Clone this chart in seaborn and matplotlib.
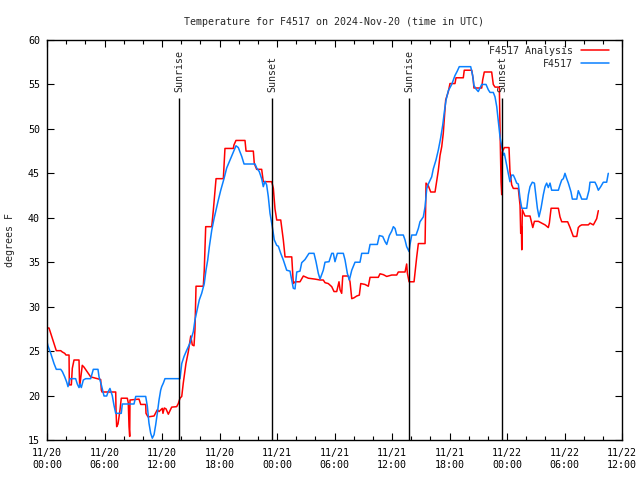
import matplotlib
matplotlib.use("Agg")
import matplotlib.pyplot as plt
import matplotlib.dates as mdates
import pandas as pd
import seaborn as sns

START = pd.Timestamp("2024-11-20 00:00")
END = pd.Timestamp("2024-11-22 12:00")

# F4517 Analysis (hours after 11/20 00:00 UTC, deg F)
analysis_hours = [
    0.0, 0.21, 0.39, 0.73, 0.97, 1.43, 1.6, 1.85, 1.98, 2.3, 2.33, 2.54, 2.64, 2.82,
    3.34, 3.41, 3.68, 3.86, 4.56, 5.6, 5.67, 5.74, 7.17, 7.2, 7.27, 7.41, 7.62, 7.75,
    8.38, 8.48, 8.56, 8.63, 8.66, 9.6, 9.78, 10.3, 10.33, 10.54, 11.17, 11.51, 11.69,
    12.03, 12.1, 12.24, 12.42, 12.66, 13.01, 13.53, 13.7, 13.88, 14.06, 14.22, 14.5,
    14.74, 15.0, 15.16, 15.34, 15.44, 15.55, 16.31, 16.41, 16.56, 17.19, 17.36, 17.53,
    17.64, 18.4, 18.57, 19.44, 19.51, 19.72, 20.66, 20.77, 21.53, 21.63, 21.88, 22.4,
    22.57, 23.45, 23.62, 23.79, 23.97, 24.39, 24.66, 24.84, 25.54, 25.7, 25.88, 26.4,
    26.75, 27.27, 27.97, 28.49, 28.83, 29.01, 29.35, 29.71, 29.95, 30.23, 30.47, 30.58,
    30.75, 30.86, 31.44, 31.62, 31.8, 32.04, 32.32, 32.59, 32.74, 33.18, 33.53, 33.71,
    34.57, 34.75, 35.1, 35.45, 35.97, 36.49, 36.66, 37.36, 37.53, 37.6, 37.78, 38.3,
    38.4, 38.58, 38.75, 39.45, 39.55, 39.79, 40.04, 40.49, 40.59, 40.83, 41.01, 41.19,
    41.35, 41.46, 41.6, 41.88, 42.05, 42.57, 42.68, 43.44, 43.54, 44.32, 44.48, 44.55,
    45.36, 45.46, 45.63, 46.4, 46.57, 46.75, 47.2, 47.27, 47.38, 47.45, 47.51, 47.72,
    48.21, 48.31, 48.49, 48.66, 49.18, 49.36, 49.43, 49.5, 49.54, 49.6, 49.88, 50.4,
    50.58, 50.69, 50.86, 51.27, 51.62, 51.97, 52.31, 52.42, 52.6, 53.36, 53.53, 53.71,
    54.33, 54.58, 54.75, 54.92, 55.28, 55.44, 55.62, 55.8, 56.49, 56.66, 57.01, 57.18,
    57.36, 57.53,
]
analysis_temps = [
    27.6, 27.6, 27.0, 25.9, 25.05, 25.05, 24.9, 24.75, 24.56, 24.56, 21.2, 21.2, 23.06, 24.0,
    24.0, 21.0, 23.4, 23.2, 22.1, 21.8, 20.6, 20.4, 20.4, 18.4, 16.5, 16.8, 18.4, 19.7,
    19.7, 19.2, 16.5, 15.4, 19.5, 19.6, 19.0, 19.0, 18.0, 17.6, 17.7, 18.4, 18.2,
    18.56, 18.0, 18.6, 18.5, 17.9, 18.7, 18.75, 19.1, 19.7, 19.9, 21.4, 23.6,
    24.9, 26.7, 25.7, 25.6, 27.4, 32.3, 32.3, 34.1, 39.0, 39.0, 40.9, 43.1,
    44.4, 44.4, 47.8, 47.8, 48.2, 48.7, 48.7, 47.5, 47.5, 46.1, 45.45, 45.45,
    44.06, 44.06, 43.3, 41.0, 39.75, 39.75, 37.5, 35.6, 35.6, 32.6, 32.8, 32.8,
    33.45, 33.2, 33.1, 33.0, 33.0, 32.7, 32.6, 32.25, 31.7, 31.7, 32.8, 31.9,
    31.5, 33.45, 33.45, 32.8, 30.9, 31.0, 31.2, 31.3, 32.6, 32.5, 32.3, 33.3,
    33.3, 33.7, 33.6, 33.4, 33.56, 33.56, 33.9, 33.9, 34.8, 33.8, 32.8, 32.8,
    33.8, 35.6, 37.1, 37.1, 43.9, 43.6, 42.9, 42.9, 43.6, 45.3, 47.0, 48.0,
    49.5, 51.2, 53.25, 54.2, 55.1, 55.1, 55.75, 55.75, 56.6, 56.6, 55.5, 54.6,
    54.6, 55.5, 56.4, 56.4, 55.0, 54.7, 54.7, 50.1, 44.0, 42.6, 47.4, 47.9,
    47.9, 45.2, 43.7, 43.3, 43.3, 41.4, 38.25, 39.0, 36.4, 40.9, 40.2, 40.2,
    39.4, 38.9, 39.6, 39.6, 39.4, 39.2, 38.9, 39.4, 41.07, 41.07, 40.1, 39.55,
    39.55, 38.9, 38.4, 37.9, 37.9, 38.9, 39.1, 39.2, 39.2, 39.4, 39.2, 39.55,
    39.9, 40.8,
]

# F4517 observations
obs_hours = [
    0.0, 0.1, 0.39, 0.55, 0.73, 0.97, 1.43, 1.6, 1.85, 2.06, 2.19, 2.4, 2.99, 3.16,
    3.34, 3.44, 3.58, 3.79, 4.04, 4.56, 4.83, 5.32, 5.43, 5.67, 5.95, 6.23, 6.37,
    6.57, 6.81, 6.99, 7.17, 7.75, 7.86, 9.08, 9.26, 10.3, 10.47, 10.64, 10.82, 10.99,
    11.17, 11.34, 11.51, 11.69, 11.86, 11.97, 12.14, 12.31, 13.88, 14.06, 14.3, 14.58,
    14.92, 15.27, 15.44, 15.62, 15.89, 16.14, 16.41, 16.59, 16.77, 16.94, 17.19, 17.43,
    17.64, 17.88, 18.13, 18.47, 18.75, 19.1, 19.44, 19.72, 19.96, 20.32, 20.56, 21.71,
    21.88, 22.15, 22.4, 22.57, 22.75, 22.92, 23.09, 23.27, 23.51, 23.72, 23.97, 24.14,
    24.39, 24.66, 25.01, 25.36, 25.54, 25.7, 25.88, 26.06, 26.4, 26.58, 26.92, 27.34,
    27.86, 28.07, 28.31, 28.49, 28.83, 29.01, 29.43, 29.71, 29.88, 30.05, 30.3, 30.92,
    31.1, 31.34, 31.55, 31.8, 32.14, 32.66, 32.84, 33.53, 33.71, 34.47, 34.68, 35.03,
    35.28, 35.45, 35.72, 35.97, 36.14, 36.32, 36.49, 37.18, 37.36, 37.53, 37.78, 37.88,
    38.06, 38.51, 38.75, 38.92, 39.27, 39.45, 39.63, 39.79, 40.14, 40.31, 40.59, 40.83,
    41.08, 41.29, 41.46, 41.64, 41.88, 42.23, 42.57, 42.81, 43.02, 44.21, 44.42, 44.55,
    44.76, 45.0, 45.18, 45.36, 45.81, 46.05, 46.23, 46.57, 46.75, 46.93, 47.1, 47.27,
    47.45, 47.62, 47.72, 47.9, 47.97, 48.13, 48.31, 48.49, 48.66, 48.83, 49.01, 49.18,
    49.36, 49.54, 50.06, 50.23, 50.4, 50.64, 50.86, 51.0, 51.17, 51.34, 51.55, 51.79,
    51.97, 52.14, 52.31, 52.49, 52.66, 53.36, 53.53, 53.71, 53.88, 54.05, 54.23, 54.4,
    54.68, 54.82, 55.28, 55.44, 55.62, 55.8, 56.32, 56.56, 56.66, 57.18, 57.36, 57.53,
    57.78, 58.05, 58.4, 58.57,
]
obs_temps = [
    26.06, 25.6, 24.75, 24.2, 23.6, 22.95, 22.95, 22.7, 22.1, 21.5, 21.0, 21.9, 21.9, 21.3,
    20.9, 21.3, 20.9, 21.75, 21.9, 21.9, 22.95, 22.95, 22.1, 21.2, 19.95, 19.95, 20.4,
    20.8, 20.0, 18.9, 18.0, 18.0, 19.05, 19.05, 19.9, 19.9, 18.8, 16.9, 15.75, 15.2,
    15.6, 16.7, 18.0, 19.5, 20.6, 21.0, 21.4, 21.9, 21.9, 23.6, 24.4, 25.1,
    25.9, 27.2, 28.5, 29.4, 30.75, 31.5, 32.6, 34.1, 35.25, 36.75, 38.6, 39.9,
    40.9, 42.0, 43.1, 44.4, 45.6, 46.5, 47.4, 48.1, 47.9, 46.9, 46.05, 46.05,
    45.6, 45.2, 44.4, 43.5, 44.1, 43.7, 42.4, 40.5, 39.0, 37.5, 36.9, 36.8,
    36.0, 35.25, 34.1, 34.0, 33.0, 32.07, 32.0, 33.9, 34.0, 34.95, 35.3, 36.0,
    36.0, 35.06, 33.75, 33.1, 34.1, 35.0, 35.06, 36.0, 36.0, 35.06, 36.0, 36.0,
    35.25, 33.75, 33.0, 34.1, 35.0, 35.0, 36.0, 36.0, 37.0, 37.0, 38.0, 37.9,
    37.3, 37.0, 38.0, 38.5, 39.0, 38.8, 38.06, 38.06, 37.5, 36.75, 36.2, 37.0,
    38.06, 38.06, 38.8, 39.55, 40.1, 41.25, 43.3, 43.8, 44.6, 45.5, 46.5, 47.6,
    49.0, 50.4, 51.9, 53.25, 54.3, 55.0, 56.0, 56.5, 57.0, 57.0, 56.0, 54.9,
    54.5, 54.2, 54.6, 55.0, 55.0, 54.4, 54.1, 54.1, 53.6, 52.5, 50.8, 49.1,
    48.0, 47.06, 47.25, 46.3, 45.9, 45.0, 44.06, 44.8, 44.8, 44.4, 43.9, 43.8,
    42.2, 41.07, 41.07, 42.6, 43.5, 44.0, 43.9, 42.6, 41.07, 40.1, 41.07, 42.6,
    43.5, 43.9, 43.4, 43.9, 43.1, 43.1, 43.7, 44.25, 44.4, 45.0, 44.4, 43.9,
    42.9, 42.1, 42.1, 43.05, 42.6, 42.1, 42.1, 43.1, 44.0, 44.0, 43.6, 43.1,
    43.5, 44.0, 44.0, 45.0,
]

sunrise_times = ["2024-11-20 13:48", "2024-11-21 13:47"]
sunset_times = ["2024-11-20 23:30", "2024-11-21 23:29"]

series_names = ["F4517 Analysis", "F4517"]
series_colors = ["#ff0000", "#0a80ff"]

FS = 7.2

# --------------------------------------------------
# Build long-form table
# --------------------------------------------------
frames = []
for name, hours, temps in [
    (series_names[0], analysis_hours, analysis_temps),
    (series_names[1], obs_hours, obs_temps),
]:
    frames.append(pd.DataFrame({
        "time": START + pd.to_timedelta(hours, unit="h"),
        "temp": temps,
        "series": name,
    }))
df = pd.concat(frames, ignore_index=True)

# --------------------------------------------------
# Plot
# --------------------------------------------------
sns.set_style("ticks")
plt.rcParams["font.family"] = ["DejaVu Sans Mono"]
plt.rcParams["font.size"] = FS

fig = plt.figure(figsize=(6.4, 4.8), dpi=100)
ax = fig.add_axes([47 / 640, 40 / 480, 575 / 640, 400 / 480])

sns.lineplot(
    data=df, x="time", y="temp", hue="series",
    hue_order=series_names, palette=dict(zip(series_names, series_colors)),
    estimator=None, sort=False, linewidth=1.1, ax=ax,
)

for t in sunrise_times + sunset_times:
    ax.vlines(pd.Timestamp(t), 15, 53.5, color="black", linewidth=1.0, zorder=3)
for t in sunrise_times:
    ax.text(pd.Timestamp(t), 54.1, "Sunrise", rotation=90, ha="center", va="bottom",
            fontsize=FS)
for t in sunset_times:
    ax.text(pd.Timestamp(t), 54.1, "Sunset", rotation=90, ha="center", va="bottom",
            fontsize=FS)

ax.set_xlim(START, END)
ax.set_ylim(15, 60)
ax.set_yticks(range(15, 61, 5))
ax.xaxis.set_major_locator(mdates.HourLocator(byhour=range(0, 24, 6)))
ax.xaxis.set_minor_locator(mdates.HourLocator(byhour=range(0, 24, 2)))
ax.xaxis.set_major_formatter(mdates.DateFormatter("%m/%d\n%H:%M"))

ax.tick_params(which="both", direction="in", top=True, right=True, colors="black",
               labelsize=FS)
ax.tick_params(which="major", length=5, width=0.8)
ax.tick_params(which="minor", length=3, width=0.8)
ax.tick_params(axis="x", which="major", pad=6)
ax.tick_params(axis="y", pad=5)
for s in ax.spines.values():
    s.set_color("black")
    s.set_linewidth(1.0)

ax.set_xlabel("")
ax.set_ylabel("degrees F", fontsize=FS)
ax.yaxis.set_label_coords(-0.056, 0.5)
ax.set_title("Temperature for F4517 on 2024-Nov-20 (time in UTC)", fontsize=FS, pad=11)

handles, labels = ax.get_legend_handles_labels()
ax.legend(handles, labels, loc="upper right", bbox_to_anchor=(0.984, 0.995),
          frameon=False, markerfirst=False, handlelength=2.8, handletextpad=0.8,
          borderaxespad=0.0, borderpad=0.4, labelspacing=0.3, fontsize=FS)

fig.savefig("out.png", dpi=100)
